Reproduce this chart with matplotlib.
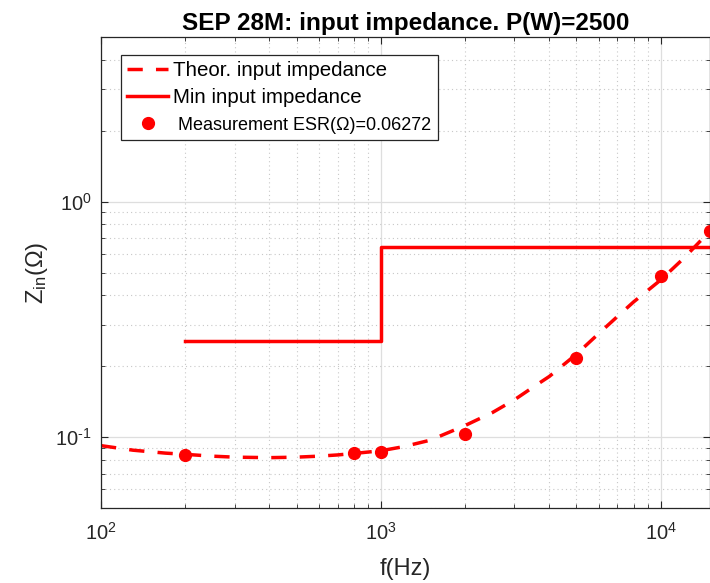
import matplotlib
matplotlib.use("Agg")
import matplotlib.pyplot as plt
import numpy as np
from matplotlib.ticker import LogLocator, NullFormatter, FuncFormatter

plt.rcParams['font.family'] = ['Liberation Sans', 'DejaVu Sans']
plt.rcParams['mathtext.fontset'] = 'custom'
plt.rcParams['mathtext.rm'] = 'Liberation Sans'
plt.rcParams['mathtext.it'] = 'Liberation Sans:italic'
plt.rcParams['mathtext.default'] = 'regular'
plt.rcParams['axes.unicode_minus'] = False

# Theoretical input impedance curve
theo_f = [100, 130, 170, 200, 250, 300, 400, 500, 600, 700, 800, 1000, 1200,
          1500, 2000, 2500, 3000, 3500, 4000, 5000, 6000, 7000, 8000, 9000,
          10000, 12000, 15000]
theo_z = [0.092, 0.088, 0.0855, 0.0845, 0.083, 0.0822, 0.0818, 0.0822, 0.083,
          0.084, 0.0852, 0.0875, 0.091, 0.097, 0.112, 0.127, 0.144, 0.163,
          0.181, 0.225, 0.275, 0.325, 0.375, 0.42, 0.465, 0.57, 0.75]

# Minimum input impedance (step)
min_f = [200, 1000, 1000, 15000]
min_z = [0.255, 0.255, 0.644, 0.644]

# Measurements
meas_f = [200, 800, 1000, 2000, 5000, 10000, 15000]
meas_z = [0.0839, 0.0855, 0.0864, 0.103, 0.216, 0.481, 0.753]

fig = plt.figure(figsize=(7.10, 5.83), dpi=100)
ax = fig.add_axes([101/710, 1-508/583, 609/710, 471/583])

red = '#ff0000'
ax.plot(theo_f, theo_z, color=red, lw=2.5, linestyle=(0, (4.4, 3.8)),
        label='Theor. input impedance')
ax.plot(min_f, min_z, color=red, lw=2.5, label='Min input impedance')
ax.plot(meas_f, meas_z, 'o', color=red, markersize=8.5, clip_on=False,
        label=' Measurement ESR(Ω)=0.06272')

ax.set_xscale('log')
ax.set_yscale('log')
ax.set_xlim(100, 15000)
ax.set_ylim(0.05, 5)


def pow10(v, pos):
    n = int(round(np.log10(v)))
    if n < 0:
        return r'$10^{\text{-}%d}$' % (-n)
    return r'$10^{%d}$' % n


ax.xaxis.set_major_locator(LogLocator(base=10, numticks=20))
ax.yaxis.set_major_locator(LogLocator(base=10, numticks=20))
ax.xaxis.set_major_formatter(FuncFormatter(pow10))
ax.yaxis.set_major_formatter(FuncFormatter(pow10))
ax.xaxis.set_minor_locator(LogLocator(base=10, subs=range(2, 10), numticks=20))
ax.yaxis.set_minor_locator(LogLocator(base=10, subs=range(2, 10), numticks=20))
ax.xaxis.set_minor_formatter(NullFormatter())
ax.yaxis.set_minor_formatter(NullFormatter())

ax.grid(True, which='major', color='#dedede', linestyle='-', lw=0.9)
ax.grid(True, which='minor', color='#c8c8c8', linestyle=(0, (1, 2.8)), lw=0.8)
ax.set_axisbelow(True)

tc = '#262626'
ax.tick_params(which='both', direction='in', top=True, right=True, colors=tc,
               labelcolor=tc)
ax.tick_params(which='major', length=5, labelsize=14.5)
ax.tick_params(axis='x', which='major', pad=10)
ax.tick_params(axis='y', which='major', pad=6.5)
ax.tick_params(which='minor', length=3)
for s in ax.spines.values():
    s.set_color(tc)
    s.set_linewidth(0.9)

ax.set_xlabel('f(Hz)', fontsize=17, color=tc, labelpad=10)
ax.set_ylabel('Z$_{in}$(Ω)', fontsize=17, color=tc, labelpad=4)
ax.set_title('SEP 28M: input impedance. P(W)=2500', fontsize=17.5,
             fontweight='bold', pad=5)

leg = ax.legend(loc='upper left', bbox_to_anchor=(0.0329, 0.9618),
                borderaxespad=0, fontsize=14.8, frameon=True, fancybox=False,
                edgecolor='#262626', framealpha=1, handlelength=2.0,
                handletextpad=0.25, labelspacing=0.4, borderpad=0.3)
leg.get_frame().set_linewidth(0.9)
leg.get_texts()[2].set_fontsize(13)

fig.savefig('out.png', dpi=100)
